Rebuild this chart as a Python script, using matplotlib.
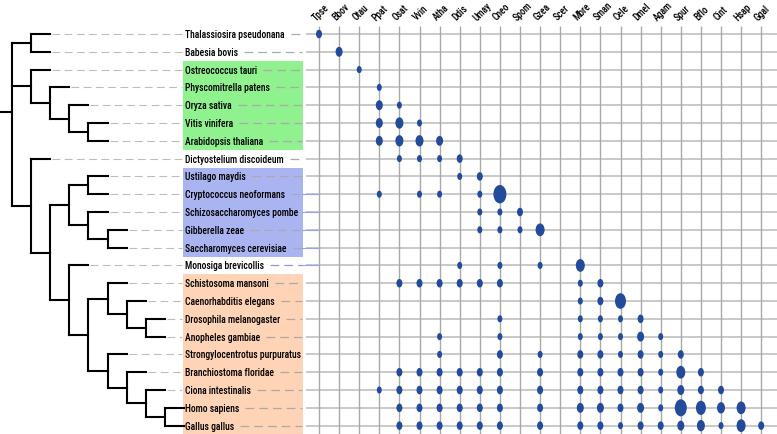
import numpy as np
import matplotlib.pyplot as plt
from matplotlib.patches import Ellipse, Rectangle

# Inputs
abbrev = ['Tpse', 'Bbov', 'Otau', 'Ppat', 'Osat', 'Vvin', 'Atha', 'Ddis',
          'Umay', 'Cneo', 'Spom', 'Gzea', 'Scer', 'Mbre', 'Sman', 'Cele',
          'Dmel', 'Agam', 'Spur', 'Bflo', 'Cint', 'Hsap', 'Ggal']
species = ['Thalassiosira pseudonana', 'Babesia bovis', 'Ostreococcus tauri',
           'Physcomitrella patens', 'Oryza sativa', 'Vitis vinifera',
           'Arabidopsis thaliana', 'Dictyostelium discoideum', 'Ustilago maydis',
           'Cryptococcus neoformans', 'Schizosaccharomyces pombe', 'Gibberella zeae',
           'Saccharomyces cerevisiae', 'Monosiga brevicollis', 'Schistosoma mansoni',
           'Caenorhabditis elegans', 'Drosophila melanogaster', 'Anopheles gambiae',
           'Strongylocentrotus purpuratus', 'Branchiostoma floridae',
           'Ciona intestinalis', 'Homo sapiens', 'Gallus gallus']

tree = (('Tpse', 'Bbov'),
        ('Otau', ('Ppat', ('Osat', ('Vvin', 'Atha')))),
        ('Ddis', ((('Umay', 'Cneo'), ('Spom', ('Gzea', 'Scer'))),
                  ('Mbre', (('Sman', ('Cele', ('Dmel', 'Agam'))),
                            ('Spur', ('Bflo', ('Cint', ('Hsap', 'Ggal')))))))))

# (first tip, last tip, colour) of the shaded label groups
groups = [('Otau', 'Atha', '#8ff28f'),
          ('Umay', 'Scer', '#aab4f0'),
          ('Sman', 'Ggal', '#ffd3b5')]

# dot values per row: (column, value)
dots = [
    [(0, 2)],
    [(1, 3)],
    [(2, 1)],
    [(3, 1)],
    [(3, 3), (4, 1)],
    [(3, 3), (4, 4), (5, 1)],
    [(3, 3), (4, 4), (5, 4), (6, 3)],
    [(4, 1), (5, 1), (6, 1), (7, 2)],
    [(7, 1), (8, 2)],
    [(3, 1), (5, 1), (6, 1), (8, 1), (9, 9)],
    [(8, 1), (9, 1), (10, 2)],
    [(8, 1), (9, 1), (10, 1), (11, 5)],
    [],
    [(7, 1), (9, 1), (11, 1), (13, 5)],
    [(4, 2), (5, 2), (6, 2), (7, 2), (8, 2), (9, 2), (13, 1), (14, 2)],
    [(13, 1), (14, 2), (15, 7)],
    [(9, 1), (13, 1), (14, 1), (15, 1), (16, 2)],
    [(6, 1), (9, 1), (13, 1), (14, 1), (15, 1), (16, 3), (17, 1)],
    [(6, 1), (9, 2), (11, 1), (13, 2), (14, 2), (15, 1), (16, 2), (17, 1), (18, 2)],
    [(4, 2), (5, 2), (6, 2), (7, 2), (8, 2), (9, 2), (11, 2), (13, 2), (14, 2),
     (15, 2), (16, 2), (17, 1), (18, 5), (19, 2)],
    [(3, 1), (4, 2), (5, 2), (6, 2), (7, 2), (8, 2), (9, 2), (11, 2), (13, 2),
     (14, 2), (15, 2), (16, 2), (17, 1), (18, 3), (19, 2), (20, 2)],
    [(4, 2), (5, 2), (6, 2), (7, 2), (8, 2), (9, 2), (11, 2), (13, 3), (14, 3),
     (15, 2), (16, 3), (17, 1), (18, 8), (19, 6), (20, 4), (21, 5)],
    [(4, 2), (5, 2), (6, 2), (7, 2), (8, 2), (9, 2), (11, 2), (13, 2), (14, 2),
     (15, 1), (16, 2), (17, 2), (18, 3), (19, 4), (20, 1), (21, 5), (22, 2)],
]

# Layout (x in pixels, y in rows)
tree_x0 = 12
tree_dx = 19.1
label_x = 185
box_x = (183, 302.5)
grid_x0 = 306
col_x0 = 319
col_dx = 20.1
dot_color = '#234b9b'
fonts = ['Roboto Condensed', 'DejaVu Sans']
fsize = 6.9

fig = plt.figure(figsize=(7.77, 4.35), dpi=100)
ax = fig.add_axes([0, 0, 1, 1])
ax.set_xlim(0, 777)
ax.set_ylim(22.47, -1.966)
ax.axis('off')

tip_x = {}


def draw_node(node, depth):
    x = tree_x0 + depth * tree_dx
    if isinstance(node, str):
        tip_x[node] = x
        return abbrev.index(node)
    ys = [draw_node(child, depth + 1) for child in node]
    ax.plot([x, x], [min(ys), max(ys)], color='black', lw=1.5,
            solid_capstyle='projecting', zorder=3)
    for y in ys:
        ax.plot([x, x + tree_dx], [y, y], color='black', lw=1.5,
                solid_capstyle='projecting', zorder=3)
    return np.mean(ys)


root_y = draw_node(tree, 0)
ax.plot([0, tree_x0], [root_y, root_y], color='black', lw=1.5, zorder=3)

# shaded groups
for first, last, colour in groups:
    i0, i1 = abbrev.index(first), abbrev.index(last)
    ax.add_patch(Rectangle((box_x[0], i0 - 0.5), box_x[1] - box_x[0], i1 - i0 + 1,
                           facecolor=colour, edgecolor='none', zorder=0))

# grid
n = len(abbrev)
col_xs = [col_x0 + j * col_dx for j in range(n)]
ax.hlines(range(n), grid_x0, 777, color='#c9c9c9', lw=1.4, zorder=1)
ax.vlines(col_xs, -0.47, 22.47, color='#a9a9a9', lw=1.0, zorder=1)

# labels
labels = []
for i, name in enumerate(species):
    labels.append(ax.text(label_x, i, name, fontsize=fsize, family=fonts,
                          weight='medium', va='center', ha='left', zorder=4))

# dashed leaders on both sides of each label
fig.canvas.draw()
renderer = fig.canvas.get_renderer()
inv = ax.transData.inverted()
for i, (ab, t) in enumerate(zip(abbrev, labels)):
    lc = '#8f98e0' if ab == 'Mbre' else '#aaaaaa'
    end_x = inv.transform((t.get_window_extent(renderer).x1, 0))[0]
    if label_x - 3 > tip_x[ab] + 2:
        ax.plot([tip_x[ab] + 2, label_x - 3], [i, i], color='#bdbdbd', lw=0.8,
                dashes=(7, 4), zorder=1)
    if end_x + 6 < 302:
        ax.plot([end_x + 6, 302], [i, i], color=lc, lw=0.9,
                dashes=(7, 4), zorder=1)
    if 9 <= i <= 13:
        ax.plot([302, col_x0], [i, i], color='#9aa3e8', lw=0.8, zorder=1.5)

# column labels
for j, ab in enumerate(abbrev):
    ax.text(col_xs[j] - 3, -0.76, ab, fontsize=fsize, family=fonts, weight='medium',
            rotation=45, rotation_mode='anchor', ha='left', va='baseline')

# dots
for i, row in enumerate(dots):
    for j, v in row:
        w = 4.0 + 1.0 * v
        ax.add_patch(Ellipse((col_xs[j], i), w, w * 1.42 / 17.8,
                             facecolor=dot_color, edgecolor='none', zorder=5))

fig.savefig('out.png', dpi=100)
